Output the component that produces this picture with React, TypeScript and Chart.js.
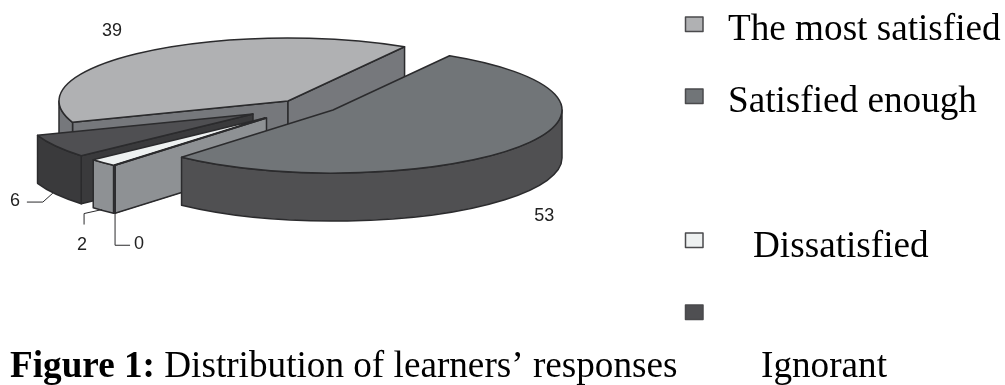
import React, { useEffect, useRef } from "react";
import { Chart, registerables } from "chart.js";

Chart.register(...registerables);

// Share of learners per response, in the order the slices run clockwise.
const sliceNames = ["The most satisfied", "Satisfied enough", "Undecided", "Dissatisfied", "Ignorant"];
const sliceValues = [39, 53, 0, 2, 6];
const topColors = ["#b0b1b3", "#717578", "#8e9194", "#eef1f1", "#4f4f52"];
const wallColors = ["#76787c", "#505052", "#8e9194", "#8e9194", "#3a3a3c"];

// Exploded offset of each slice from the pie centre, in screen pixels.
const sliceShift = [
  [0, 0],
  [45, 9],
  [-21.5, 17],
  [-23, 17],
  [-35, 13],
];
// Back-to-front painting order.
const paintOrder = [0, 4, 3, 2, 1];

const legendRows = [
  { slice: 0, text: "The most satisfied", textX: 728, baseline: 40, boxY: 17 },
  { slice: 1, text: "Satisfied enough", textX: 728, baseline: 112, boxY: 89 },
  { slice: 3, text: "Dissatisfied", textX: 753, baseline: 257, boxY: 233 },
  { slice: 4, text: "Ignorant", textX: 761, baseline: 377, boxY: 305 },
];

// Value label position relative to each slice's rim anchor, with an optional leader line.
const valueLabels = [
  { slice: 0, dx: -30, dy: -21, leader: [] as number[][] },
  { slice: 1, dx: 26, dy: 21, leader: [] as number[][] },
  { slice: 2, dx: 24, dy: 31, leader: [[0, 0], [0, 32], [15, 32]] },
  { slice: 3, dx: -21, dy: 34, leader: [[-1, -1], [-19, 3], [-19, 14]] },
  { slice: 4, dx: -41, dy: 7, leader: [[-3, -1], [-13, 8], [-29, 8]] },
];

const PIE_X = 288;
const PIE_Y = 101;
const RADIUS_X = 229;
const RADIUS_Y = 63;
const DEPTH = 48;
const OUTLINE = "#2b2b2d";
const SERIF_SIZE = 37.2;

const pie3d = {
  id: "pie3d",
  beforeDatasetsDraw(chart: any) {
    const ctx: CanvasRenderingContext2D = chart.ctx;
    const arcs = chart.getDatasetMeta(0).data;

    ctx.save();
    ctx.lineJoin = "round";
    ctx.lineWidth = 1.5;
    ctx.strokeStyle = OUTLINE;

    const paint = (fill: string) => {
      ctx.fillStyle = fill;
      ctx.fill();
      ctx.stroke();
    };

    for (const i of paintOrder) {
      const arc = arcs[i];
      const { startAngle: a0, endAngle: a1 } = arc;
      const cx = PIE_X + sliceShift[i][0];
      const cy = PIE_Y + sliceShift[i][1];

      // Radial cut faces, skipping those that turn away from the viewer.
      const cuts = [
        { a: a0, visible: Math.cos(a0) < 0 },
        { a: a1, visible: Math.cos(a1) > 0 },
      ];
      for (const { a, visible } of cuts) {
        if (!visible) continue;
        const x = cx + Math.cos(a) * RADIUS_X;
        const y = cy + Math.sin(a) * RADIUS_Y;
        ctx.beginPath();
        ctx.moveTo(cx, cy);
        ctx.lineTo(x, y);
        ctx.lineTo(x, y + DEPTH);
        ctx.lineTo(cx, cy + DEPTH);
        ctx.closePath();
        paint(wallColors[i]);
      }

      // Outer wall, only where the rim faces the viewer.
      for (const k of [0, 1]) {
        const from = Math.max(a0, k * 2 * Math.PI);
        const to = Math.min(a1, k * 2 * Math.PI + Math.PI);
        if (to < from) continue;
        ctx.beginPath();
        ctx.ellipse(cx, cy, RADIUS_X, RADIUS_Y, 0, from, to);
        ctx.ellipse(cx, cy + DEPTH, RADIUS_X, RADIUS_Y, 0, to, from, true);
        ctx.closePath();
        paint(wallColors[i]);
      }

      // Top face: the arc element itself, flattened into an ellipse.
      const r = arc.outerRadius;
      ctx.save();
      ctx.translate(cx, cy);
      ctx.scale(RADIUS_X / r, RADIUS_Y / r);
      ctx.translate(-arc.x, -arc.y);
      arc.draw(ctx);
      ctx.restore();

      ctx.beginPath();
      ctx.moveTo(cx, cy);
      ctx.ellipse(cx, cy, RADIUS_X, RADIUS_Y, 0, a0, a1);
      ctx.closePath();
      ctx.stroke();
    }

    // Value labels and leader lines.
    ctx.font = '18px "Liberation Sans"';
    ctx.textAlign = "center";
    ctx.textBaseline = "middle";
    ctx.lineWidth = 1;
    for (const item of valueLabels) {
      const arc = arcs[item.slice];
      const mid = (arc.startAngle + arc.endAngle) / 2;
      const front = Math.sin(mid) > 0;
      const ax = PIE_X + sliceShift[item.slice][0] + Math.cos(mid) * RADIUS_X;
      const ay = PIE_Y + sliceShift[item.slice][1] + Math.sin(mid) * RADIUS_Y + (front ? DEPTH : 0);
      if (item.leader.length) {
        ctx.beginPath();
        item.leader.forEach(([dx, dy], n) => {
          if (n === 0) ctx.moveTo(ax + dx, ay + dy);
          else ctx.lineTo(ax + dx, ay + dy);
        });
        ctx.stroke();
      }
      ctx.fillStyle = "#222";
      ctx.fillText(String(sliceValues[item.slice]), ax + item.dx, ay + item.dy);
    }

    // Legend swatches and text.
    ctx.textAlign = "left";
    ctx.textBaseline = "alphabetic";
    for (const row of legendRows) {
      ctx.fillStyle = topColors[row.slice];
      ctx.strokeStyle = "#4a4a4c";
      ctx.lineWidth = 1.5;
      ctx.fillRect(685.5, row.boxY, 17.5, 14.5);
      ctx.strokeRect(685.5, row.boxY, 17.5, 14.5);
      ctx.fillStyle = "#000";
      ctx.font = `${SERIF_SIZE}px "Liberation Serif"`;
      ctx.fillText(row.text, row.textX, row.baseline);
    }

    // Figure caption.
    ctx.fillStyle = "#000";
    ctx.font = `bold ${SERIF_SIZE}px "Liberation Serif"`;
    const bold = "Figure 1:";
    ctx.fillText(bold, 10, 377);
    const w = ctx.measureText(bold).width;
    ctx.font = `${SERIF_SIZE}px "Liberation Serif"`;
    ctx.fillText(" Distribution of learners’ responses", 10 + w, 377);

    ctx.restore();
    return false;
  },
};

export default function App() {
  const ref = useRef<HTMLCanvasElement>(null);

  useEffect(() => {
    const chart = new Chart(ref.current!, {
      type: "doughnut",
      data: {
        labels: sliceNames,
        datasets: [{ data: sliceValues, backgroundColor: topColors, borderWidth: 0 }],
      },
      options: {
        responsive: false,
        animation: false,
        cutout: 0,
        rotation: 250.2,
        plugins: { legend: { display: false }, tooltip: { enabled: false } },
      },
      plugins: [pie3d],
    } as any);
    return () => chart.destroy();
  }, []);

  return (
    <div style={{ position: "fixed", left: 0, top: 0, width: 1005, height: 385 }}>
      <canvas ref={ref} width={1005} height={385} style={{ display: "block" }} />
    </div>
  );
}
